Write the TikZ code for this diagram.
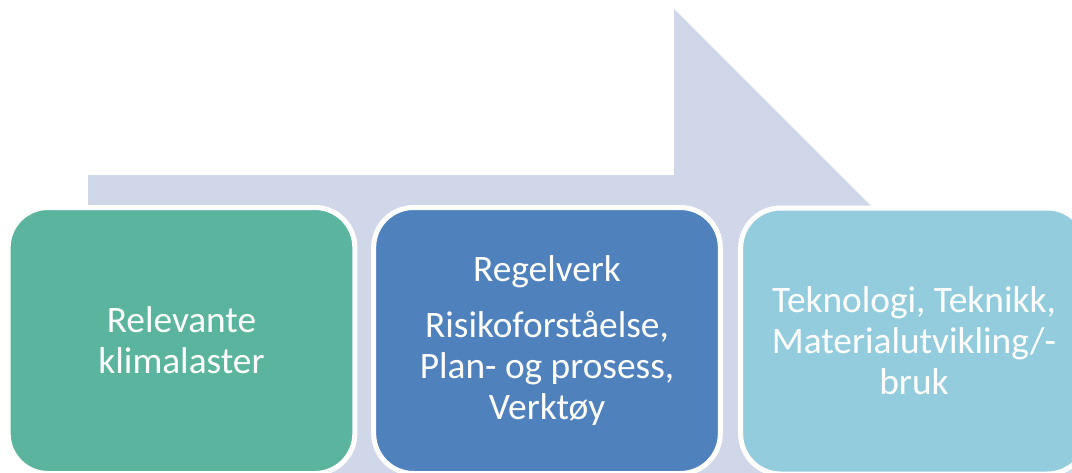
\documentclass[tikz,border=0pt]{standalone}
\usepackage{fontspec}
\setmainfont{Carlito}
\definecolor{arrowgray}{HTML}{D0D7E8}
\definecolor{klimagreen}{HTML}{5BB49E}
\definecolor{regelblue}{HTML}{4F81BD}
\definecolor{teknoblue}{HTML}{93CDDD}
\tikzset{stepbox/.style={draw=white, line width=3.75pt, rounded corners=30pt,
    minimum width=260pt, minimum height=199.5pt, text=white, align=center,
    font=\fontsize{28}{30.75}\selectfont}}
\begin{document}
\begin{tikzpicture}[x=0.75pt,y=-0.75pt]
        % Fix the page to the size of the reference
        \useasboundingbox (0,0) rectangle (1072,472);
        \clip (0,0) rectangle (1072,472);

        % Draw the big arrow behind the boxes
        \fill[arrowgray] (88,175) -- (674,175) -- (674,9) -- (1165,500) -- (88,500) -- cycle;

        % Draw the three boxes
        \node[stepbox, fill=klimagreen] (klima) at (181.5,340.5) {Relevante\\klimalaster};
        \node[stepbox, fill=regelblue] (regel) at (547,340.5) {Regelverk\\[11pt]Risikoforståelse,\\Plan- og prosess,\\Verktøy};
        \node[stepbox, fill=teknoblue] (tekno) at (914,341) {Teknologi, Teknikk,\\Materialutvikling/-\\bruk};

      \end{tikzpicture}
\end{document}
